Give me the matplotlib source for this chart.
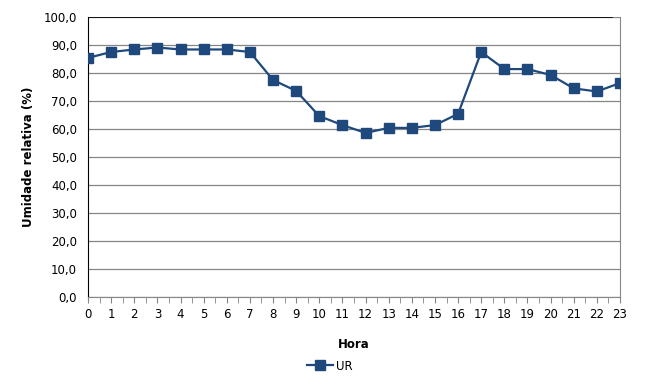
import numpy as np
import matplotlib.pyplot as plt
from matplotlib.ticker import MultipleLocator, FuncFormatter

# Hourly relative humidity
horas = list(range(24))
ur = [85.4, 87.5, 88.4, 89.1, 88.4, 88.4, 88.4, 87.5, 77.5, 73.6, 64.6, 61.4,
      58.6, 60.4, 60.4, 61.4, 65.4, 87.5, 81.4, 81.4, 79.3, 74.5, 73.4, 76.4]

plt.rcParams['font.family'] = ['DejaVu Sans']

fig = plt.figure(figsize=(6.64, 3.87), dpi=100)
ax = fig.add_axes([88/664, 1-297/387, (620-88)/664, (297-17)/387])

ax.plot(horas, ur, color='#1F497D', linewidth=1.6, marker='s', markersize=6.5,
        label='UR', zorder=3)

ax.set_xlim(0, 23)
ax.set_ylim(0, 100)
ax.xaxis.set_major_locator(MultipleLocator(1))
ax.xaxis.set_minor_locator(MultipleLocator(0.5))
ax.yaxis.set_major_locator(MultipleLocator(10))
ax.yaxis.set_major_formatter(FuncFormatter(lambda v, p: f'{v:.1f}'.replace('.', ',')))

ax.grid(axis='y', color='#868686', linewidth=0.9)
ax.set_axisbelow(True)
ax.spines['top'].set_visible(False)
ax.spines['left'].set_color('black')
ax.spines['right'].set_color('#868686')
ax.spines['bottom'].set_color('#868686')
ax.axhline(100, xmin=0, xmax=0.985, color='black', linewidth=1.2, zorder=2)

ax.tick_params(axis='x', which='both', direction='out', colors='#868686',
               labelcolor='black', labelsize=8.5, pad=4, length=4)
ax.tick_params(axis='y', length=0, labelsize=8.5, pad=8)

ax.set_xlabel('Hora', fontweight='bold', fontsize=8.5, labelpad=12)
ax.set_ylabel('Umidade relativa (%)', fontweight='bold', fontsize=8.5, labelpad=6)

fig.legend(loc='center', bbox_to_anchor=(330/664, 1-366/387), frameon=False,
           fontsize=8.5, handlelength=2.2, handletextpad=0.3)

fig.savefig('out.png', dpi=100)
